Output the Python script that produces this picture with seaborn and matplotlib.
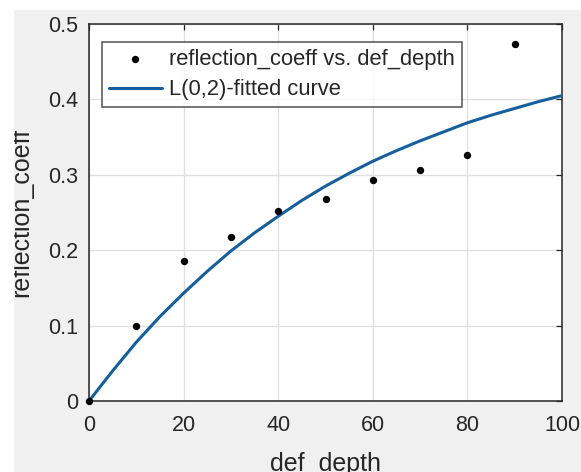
import numpy as np
import pandas as pd
import seaborn as sns
import matplotlib.pyplot as plt
from matplotlib.patches import Rectangle

# measured points
def_depth = [0, 10, 20, 30, 40, 50, 60, 70, 80, 90]
reflection_coeff = [0.0, 0.100, 0.186, 0.218, 0.252, 0.268, 0.293, 0.307, 0.326, 0.473]

# fitted curve, every 5 units
curve_depth = [0, 5, 10, 15, 20, 25, 30, 35, 40, 45, 50,
               55, 60, 65, 70, 75, 80, 85, 90, 95, 100]
curve_coeff = [0.0, 0.040, 0.078, 0.112, 0.143, 0.172, 0.199, 0.223, 0.245, 0.266, 0.285,
               0.302, 0.318, 0.332, 0.345, 0.357, 0.369, 0.379, 0.388, 0.397, 0.405]

x_ticks = [0, 20, 40, 60, 80, 100]
y_ticks = [0, 0.1, 0.2, 0.3, 0.4, 0.5]
y_ticklabels = ["0", "0.1", "0.2", "0.3", "0.4", "0.5"]

pts = pd.DataFrame({"def_depth": def_depth, "reflection_coeff": reflection_coeff})
fit = pd.DataFrame({"def_depth": curve_depth, "reflection_coeff": curve_coeff})

sns.set_style("white")
plt.rcParams['font.family'] = ['Liberation Sans', 'DejaVu Sans']
txt = "#262626"

fig = plt.figure(figsize=(5.81, 4.72), dpi=100, facecolor="#f0f0f0")
ax = fig.add_axes([89 / 581, 1 - 401 / 472, 473 / 581, 377 / 472])
ax.set_facecolor("white")

sns.scatterplot(data=pts, x="def_depth", y="reflection_coeff", ax=ax,
                color="black", s=28, edgecolor="black", linewidth=0,
                label="reflection_coeff vs. def_depth", zorder=4, clip_on=False)
sns.lineplot(data=fit, x="def_depth", y="reflection_coeff", ax=ax,
             color="#145f9c", linewidth=2.2, label="L(0,2)-fitted curve", zorder=3)

ax.set_xlim(0, 100)
ax.set_ylim(0, 0.5)
ax.set_xticks(x_ticks)
ax.set_yticks(y_ticks)
ax.set_yticklabels(y_ticklabels)
ax.grid(True, color="#dedede", linewidth=0.9)
ax.set_axisbelow(True)
for s in ax.spines.values():
    s.set_color(txt)
    s.set_linewidth(1.1)
ax.tick_params(direction="in", length=4, width=0.9, colors=txt,
               labelsize=15.5, top=True, right=True)
ax.tick_params(axis="x", pad=10)
ax.tick_params(axis="y", pad=8)

ax.set_xlabel("def_depth", fontsize=18, color=txt)
ax.set_ylabel("reflection_coeff", fontsize=18, color=txt)
ax.xaxis.set_label_coords(0.5, -0.135)
ax.yaxis.set_label_coords(-0.118, 0.5)

leg = ax.legend(loc="upper left", bbox_to_anchor=(0.0275, 0.952), borderaxespad=0,
                fontsize=15.8, frameon=True, fancybox=False, handlelength=2.4,
                handletextpad=0.35, labelspacing=0.42, borderpad=0.32)
leg.get_frame().set_edgecolor(txt)
leg.get_frame().set_linewidth(1.1)
for t in leg.get_texts():
    t.set_color(txt)

# white strip at left and top of the screenshot
fig.patches.append(Rectangle((0, 0), 13 / 581, 1, transform=fig.transFigure,
                             color="white", zorder=10))
fig.patches.append(Rectangle((0, 1 - 9 / 472), 1, 9 / 472, transform=fig.transFigure,
                             color="white", zorder=10))

fig.savefig("out.png", dpi=100, facecolor=fig.get_facecolor())
